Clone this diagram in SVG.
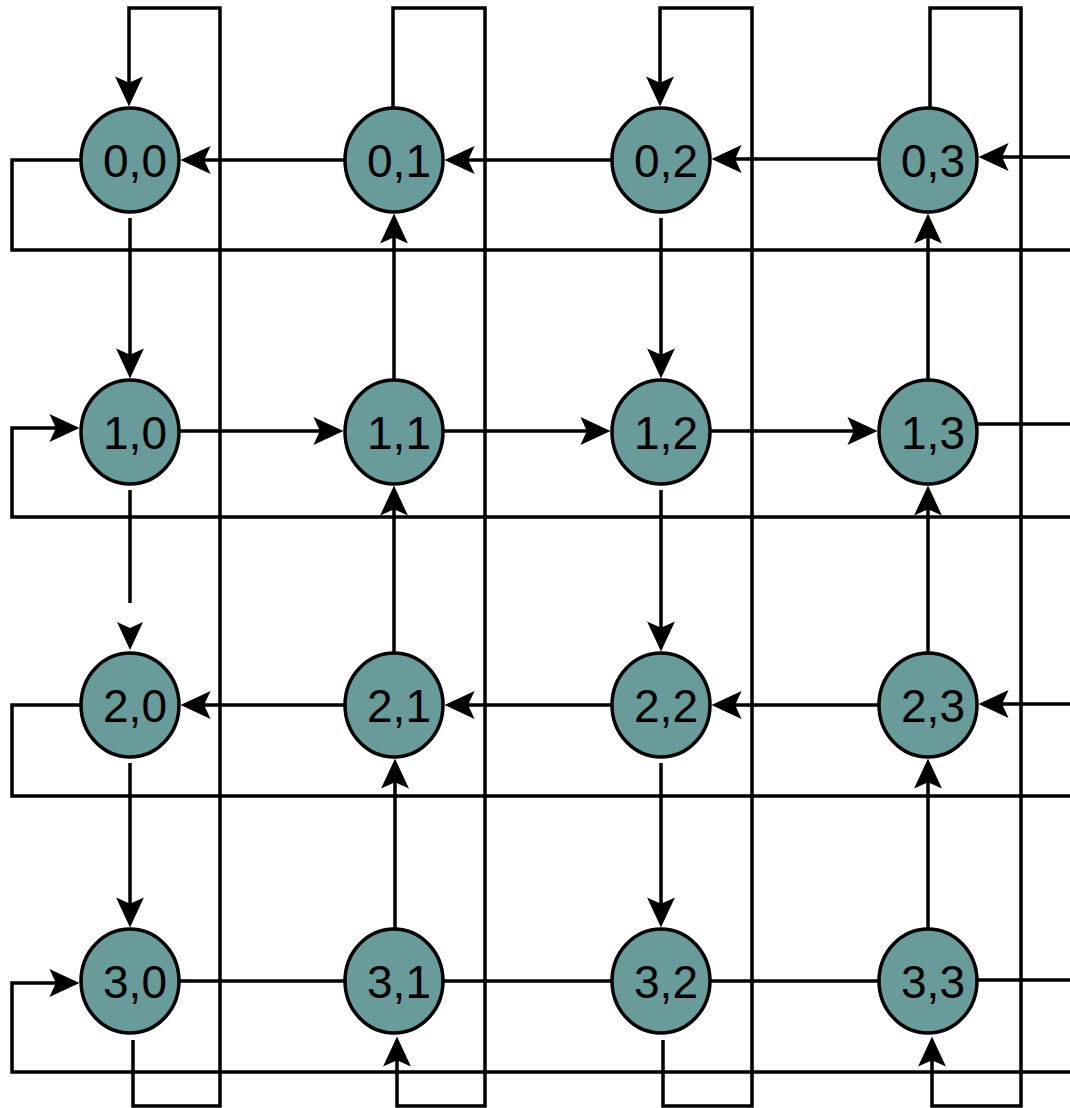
<svg xmlns="http://www.w3.org/2000/svg" width="1070" height="1108" viewBox="0 0 1070 1108">
<style>
.c{fill:none;stroke:#000;stroke-width:3.5}
.a{marker-end:url(#ah)}
.n ellipse{fill:#689B99;stroke:#000;stroke-width:3.5}
.n text{font-family:"Liberation Sans",Arial,sans-serif;font-size:46px;fill:#000;text-anchor:middle}
</style>
<defs>
<marker id="ah" markerUnits="userSpaceOnUse" markerWidth="30" markerHeight="28" viewBox="0 0 28 26" refX="8" refY="13" orient="auto">
<path d="M0,0 L28,13 L0,26 L6,13 Z" fill="#000"/>
</marker>
</defs>
<rect width="1070" height="1108" fill="#fff"/>
<g id="connectors">
<!-- row 0 -->
<path class="c a" d="M344,160 H202"/>
<path class="c a" d="M611,160 H466"/>
<path class="c a" d="M878,159 H733"/>
<path class="c a" d="M1070,157 H1000"/>
<path class="c" d="M80,160 H12 V250 H1070"/>
<!-- row 1 -->
<path class="c a" d="M180,431 H322"/>
<path class="c a" d="M444,431 H589"/>
<path class="c a" d="M711,431 H856"/>
<path class="c" d="M978,424 H1070"/>
<path class="c a" d="M1070,517 H12 V428 H58"/>
<!-- row 2 -->
<path class="c a" d="M344,705 H202"/>
<path class="c a" d="M611,705 H466"/>
<path class="c a" d="M878,705 H733"/>
<path class="c a" d="M1070,704 H1000"/>
<path class="c" d="M80,705 H12 V796 H1070"/>
<!-- row 3 -->
<path class="c" d="M180,981 H344"/>
<path class="c" d="M444,981 H611"/>
<path class="c" d="M711,981 H878"/>
<path class="c" d="M978,980 H1070"/>
<path class="c a" d="M1070,1072 H12 V983 H58"/>
<!-- column 0 -->
<path class="c a" d="M133,1040 V1106 H220 V8 H129 V85"/>
<path class="c a" d="M130,218 V357"/>
<path class="c" d="M130,490 V603"/>
<path d="M130,650 L117,622 L130,628 L143,622 Z" fill="#000"/>
<path class="c a" d="M130,763 V906"/>
<!-- column 1 -->
<path class="c a" d="M393,107 V8 H485 V1106 H397 V1058"/>
<path class="c a" d="M394,379 V235"/>
<path class="c a" d="M394,652 V507"/>
<path class="c a" d="M395,928 V780"/>
<!-- column 2 -->
<path class="c a" d="M663,1040 V1106 H752 V8 H660 V85"/>
<path class="c a" d="M661,218 V357"/>
<path class="c a" d="M661,490 V630"/>
<path class="c a" d="M661,763 V906"/>
<!-- column 3 -->
<path class="c a" d="M930,107 V8 H1021 V1106 H932 V1058"/>
<path class="c a" d="M928,379 V235"/>
<path class="c a" d="M928,652 V507"/>
<path class="c a" d="M928,928 V780"/>
</g>
<g id="n00" class="n"><ellipse cx="130" cy="160" rx="49" ry="52"/><text x="135" y="177">0,0</text></g>
<g id="n01" class="n"><ellipse cx="394" cy="160" rx="49" ry="52"/><text x="399" y="177">0,1</text></g>
<g id="n02" class="n"><ellipse cx="661" cy="160" rx="49" ry="52"/><text x="666" y="177">0,2</text></g>
<g id="n03" class="n"><ellipse cx="928" cy="160" rx="49" ry="52"/><text x="933" y="177">0,3</text></g>
<g id="n10" class="n"><ellipse cx="130" cy="432" rx="49" ry="52"/><text x="135" y="449">1,0</text></g>
<g id="n11" class="n"><ellipse cx="394" cy="432" rx="49" ry="52"/><text x="399" y="449">1,1</text></g>
<g id="n12" class="n"><ellipse cx="661" cy="432" rx="49" ry="52"/><text x="666" y="449">1,2</text></g>
<g id="n13" class="n"><ellipse cx="928" cy="432" rx="49" ry="52"/><text x="933" y="449">1,3</text></g>
<g id="n20" class="n"><ellipse cx="130" cy="705" rx="49" ry="52"/><text x="135" y="722">2,0</text></g>
<g id="n21" class="n"><ellipse cx="394" cy="705" rx="49" ry="52"/><text x="399" y="722">2,1</text></g>
<g id="n22" class="n"><ellipse cx="661" cy="705" rx="49" ry="52"/><text x="666" y="722">2,2</text></g>
<g id="n23" class="n"><ellipse cx="928" cy="705" rx="49" ry="52"/><text x="933" y="722">2,3</text></g>
<g id="n30" class="n"><ellipse cx="130" cy="981" rx="49" ry="52"/><text x="135" y="998">3,0</text></g>
<g id="n31" class="n"><ellipse cx="394" cy="981" rx="49" ry="52"/><text x="399" y="998">3,1</text></g>
<g id="n32" class="n"><ellipse cx="661" cy="981" rx="49" ry="52"/><text x="666" y="998">3,2</text></g>
<g id="n33" class="n"><ellipse cx="928" cy="981" rx="49" ry="52"/><text x="933" y="998">3,3</text></g>
</svg>
